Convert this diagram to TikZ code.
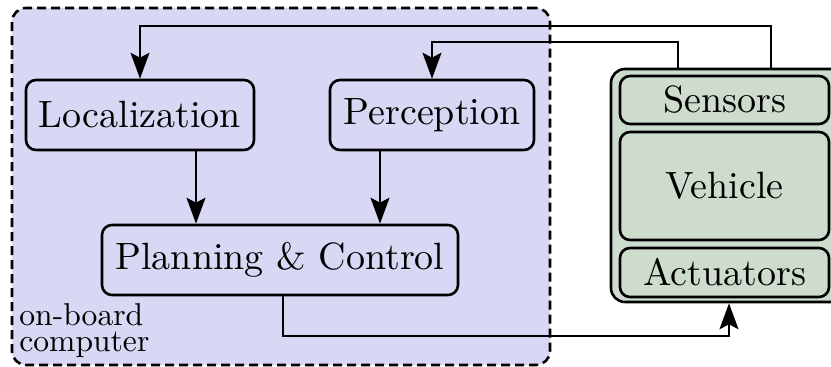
\documentclass[tikz,border=0pt]{standalone}
\usetikzlibrary{arrows.meta}
\definecolor{compfill}{RGB}{216,216,244}
\definecolor{vehfill}{RGB}{206,220,205}
\begin{document}
\begin{tikzpicture}[x=0.5pt,y=-0.5pt,
  blk/.style={draw, line width=1.3pt, rounded corners=5pt, inner sep=0pt},
  lbl/.style={font=\fontsize{10}{12}\selectfont},
  conn/.style={line width=0.8pt},
  arr/.style={conn, -{Stealth[length=13pt,width=9.5pt,inset=2.5pt]}},
]
\useasboundingbox (0,0) rectangle (831,367);
\begin{scope}
\clip (0,0) rectangle (831,367);
% on-board computer container
\node[blk, fill=compfill, dash pattern=on 4.5pt off 2.5pt, rounded corners=7pt,
      minimum width=269pt, minimum height=178.5pt] (comp) at (281,186.5) {};
\node[lbl, anchor=south west, inner sep=0pt, align=left,
      font=\fontsize{10}{13}\selectfont] (cl) at (19,358.5)
      {\scalebox{1.58}{on-board}\\\scalebox{1.58}{computer}};
\node[blk, fill=compfill, minimum width=114pt, minimum height=35pt] (loc) at (140,115)
      {\scalebox{1.9}{Localization}};
\node[blk, fill=compfill, minimum width=102pt, minimum height=35pt] (per) at (432,115)
      {\scalebox{1.9}{Perception}};
\node[blk, fill=compfill, minimum width=178pt, minimum height=35pt] (plan) at (280,260)
      {\scalebox{1.9}{Planning \& Control}};
% vehicle container
\node[blk, fill=vehfill, rounded corners=7pt, minimum width=117pt, minimum height=116.5pt]
      (car) at (728,185.5) {};
\node[blk, fill=vehfill, minimum width=104.5pt, minimum height=24pt] (sens) at (724.5,100)
      {\scalebox{1.9}{Sensors}};
\node[blk, fill=vehfill, minimum width=104.5pt, minimum height=54pt] (veh) at (724.5,186)
      {\scalebox{1.9}{Vehicle}};
\node[blk, fill=vehfill, minimum width=104.5pt, minimum height=24.5pt] (act) at (724.5,272.5)
      {\scalebox{1.9}{Actuators}};
% connectors
\draw[arr] ([xshift=28pt]loc.south) -- ([xshift=28pt]loc.south |- plan.north);
\draw[arr] ([xshift=-26pt]per.south) -- ([xshift=-26pt]per.south |- plan.north);
\coordinate (t1) at (771,26);
\coordinate (t2) at (678,42);
\coordinate (b1) at (729,336);
\draw[arr] (car.north -| t1) -- (t1) -| (loc.north);
\draw[arr] (car.north -| t2) -- (t2) -| (per.north);
\draw[arr] ([xshift=1.5pt]plan.south) |- (b1) -- (b1 |- car.south);
\end{scope}
\end{tikzpicture}
\end{document}
